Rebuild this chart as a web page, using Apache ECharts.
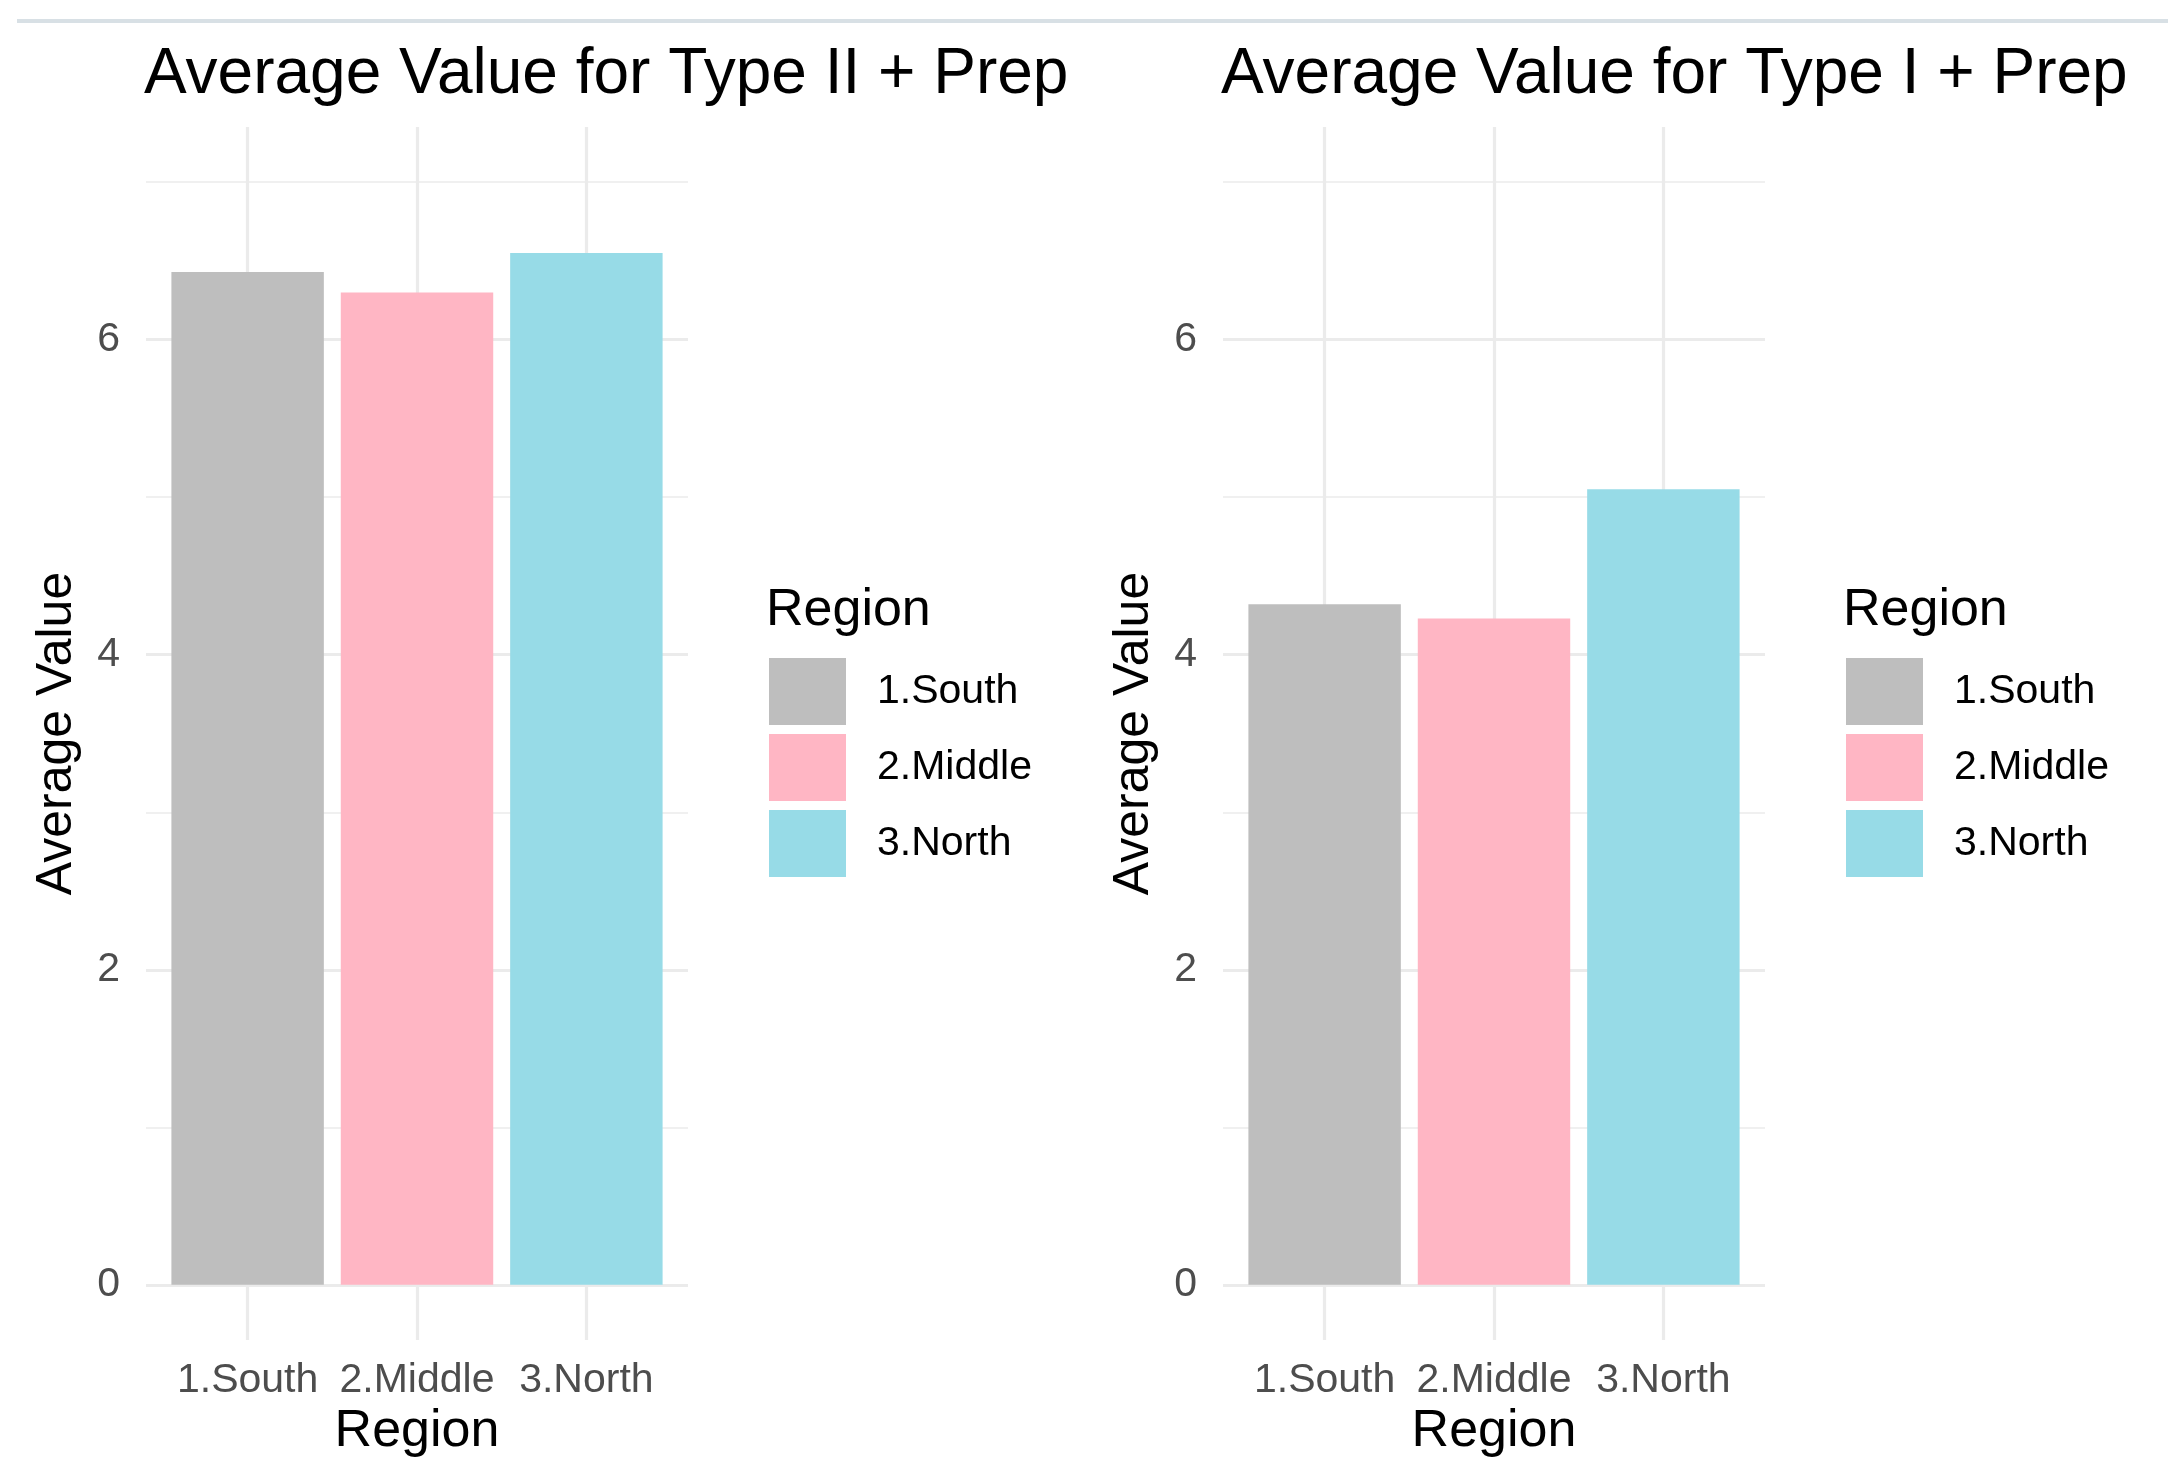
<!DOCTYPE html>
<html>
<head>
<meta charset="utf-8">
<script src="https://cdn.jsdelivr.net/npm/echarts@6/dist/echarts.min.js"></script>
<style>
html,body{margin:0;padding:0;background:#fff;}
#chart{width:2174px;height:1479px;}
</style>
</head>
<body>
<div id="chart"></div>
<script>
// ---- data ----
const regions = ['1.South', '2.Middle', '3.North'];
const panelTitles = ['Average Value for Type II + Prep', 'Average Value for Type I + Prep'];
const typeIIPrep = [6.43, 6.30, 6.55];
const typeIPrep = [4.32, 4.23, 5.05];
const yTickLabels = [0, 2, 4, 6];
const yMajorGrid = [0, 2, 4, 6];
const yMinorGrid = [1, 3, 5, 7];
const xTickPositions = [1, 2, 3];
const colors = ['#BEBEBE', '#FFB6C4', '#97DBE7'];

const panelValues = [typeIIPrep, typeIPrep];
const FONT = '"Liberation Sans", Arial, Helvetica, sans-serif';

// ---- layout ----
const panelLeft = [146, 1223];
const gridTop = 127, gridHeight = 1213, gridWidth = 542;
const xMin = 0.4, xMax = 3.6, yMin = -0.35, yMax = 7.35;
const barWidth = 0.9 * gridWidth / (xMax - xMin);
const gridColor = '#EBEBEB';

const chart = echarts.init(document.getElementById('chart'), null, {renderer: 'canvas'});

const grids = [], xAxes = [], yAxes = [], series = [], titles = [], legends = [];
panelValues.forEach((vals, p) => {
  grids.push({left: panelLeft[p], top: gridTop, width: gridWidth, height: gridHeight, containLabel: false});
  xAxes.push({
    type: 'value', gridIndex: p, min: xMin, max: xMax,
    name: 'Region', nameLocation: 'middle', nameGap: 66,
    nameTextStyle: {fontSize: 52, color: '#000', fontFamily: FONT},
    axisLine: {show: false}, axisTick: {show: false}, splitLine: {show: false},
    axisLabel: {
      customValues: xTickPositions, fontSize: 41, color: '#4D4D4D', fontFamily: FONT, margin: 20,
      formatter: v => regions[Math.round(v) - 1] || ''
    }
  });
  yAxes.push({
    type: 'value', gridIndex: p, min: yMin, max: yMax,
    name: 'Average Value', nameLocation: 'middle', nameGap: 64, nameRotate: 90,
    nameTextStyle: {fontSize: 50, color: '#000', fontFamily: FONT},
    axisLine: {show: false}, axisTick: {show: false}, splitLine: {show: false},
    axisLabel: {customValues: yTickLabels, fontSize: 41, color: '#4D4D4D', fontFamily: FONT, margin: 26}
  });
  // grid lines (behind bars)
  const mlData = [];
  yMinorGrid.forEach(v => mlData.push({yAxis: v, lineStyle: {width: 1.6, color: gridColor}}));
  yMajorGrid.forEach(v => mlData.push({yAxis: v, lineStyle: {width: 3.2, color: gridColor}}));
  xTickPositions.forEach(v => mlData.push({xAxis: v, lineStyle: {width: 3.2, color: gridColor}}));
  series.push({
    type: 'line', name: 'grid' + p, xAxisIndex: p, yAxisIndex: p, data: [], z: 1, silent: true,
    markLine: {silent: true, symbol: ['none', 'none'], label: {show: false}, z: 1,
      lineStyle: {type: 'solid'}, animation: false, data: mlData}
  });
  regions.forEach((r, i) => {
    series.push({
      type: 'bar', name: r, xAxisIndex: p, yAxisIndex: p,
      data: [[xTickPositions[i], vals[i]]],
      barWidth: barWidth, barGap: '-100%', z: 3,
      itemStyle: {color: colors[i]}
    });
  });
  titles.push({text: panelTitles[p], left: panelLeft[p] - 7, top: 38,
    textStyle: {fontSize: 64, fontWeight: 'normal', color: '#000', fontFamily: FONT}});
  titles.push({text: 'Region', left: panelLeft[p] + 615, top: 580,
    textStyle: {fontSize: 52, fontWeight: 'normal', color: '#000', fontFamily: FONT}});
  legends.push({
    data: regions, orient: 'vertical', left: panelLeft[p] + 618, top: 653,
    itemWidth: 77, itemHeight: 67, itemGap: 9, icon: 'rect', selectedMode: false,
    textStyle: {fontSize: 41, color: '#000', fontFamily: FONT, padding: [8, 0, 0, 26]}
  });
});

chart.setOption({
  backgroundColor: '#fff',
  animation: false,
  title: titles,
  legend: legends,
  grid: grids,
  xAxis: xAxes,
  yAxis: yAxes,
  series: series,
  graphic: [{type: 'rect', shape: {x: 17, y: 19, width: 2151, height: 4}, style: {fill: '#D8E0E5'}, silent: true}]
});
</script>
</body>
</html>
